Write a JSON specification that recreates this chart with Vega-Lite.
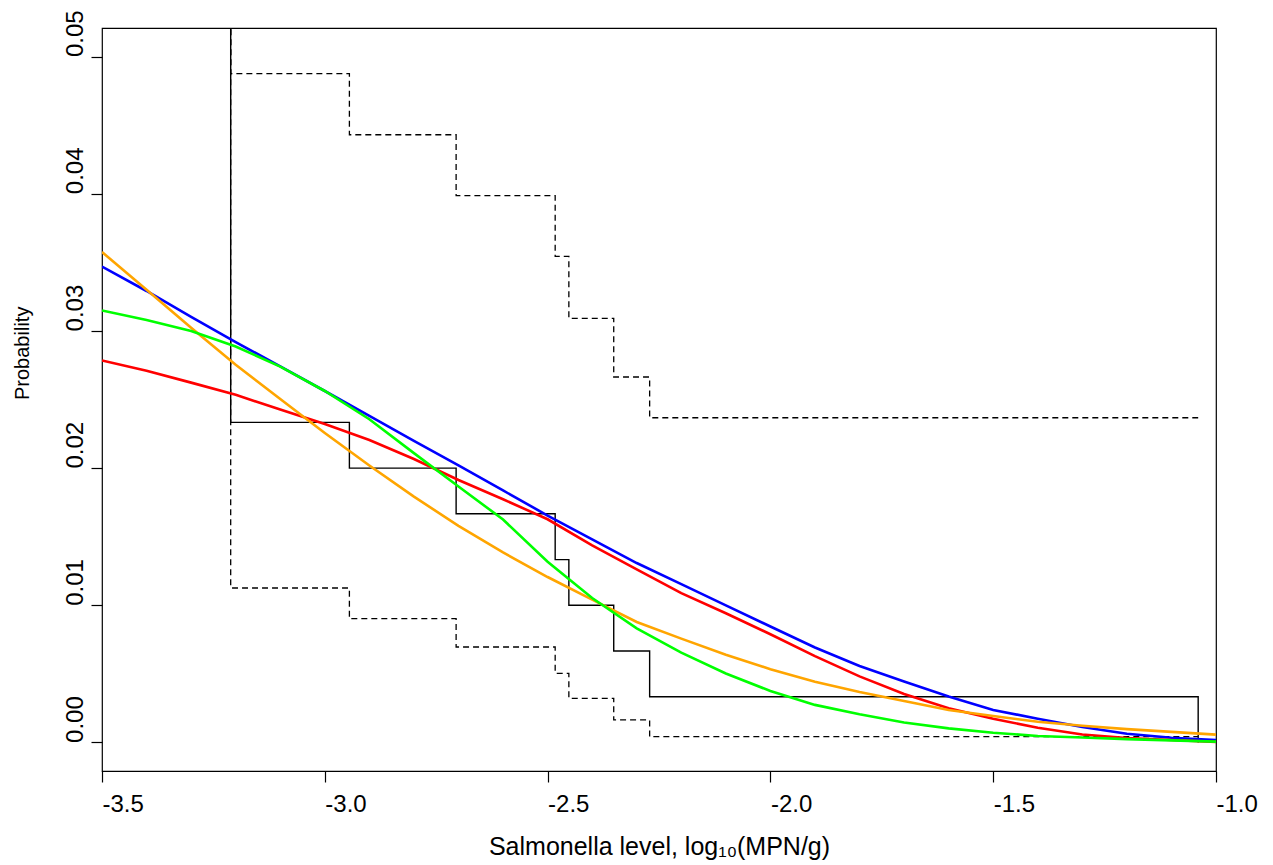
{
  "$schema": "https://vega.github.io/schema/vega-lite/v6.json",
  "autosize": {"type": "none"},
  "padding": {"left": 102, "top": 28, "right": 57, "bottom": 94},
  "width": 1114,
  "height": 743,
  "background": "white",
  "config": {
    "locale": {"number": {"decimal": ".", "thousands": ",", "grouping": [3], "currency": ["$", ""], "minus": "-"}},
    "view": {"stroke": "black", "strokeWidth": 1.2},
    "font": "Liberation Sans",
    "axis": {
      "grid": false,
      "domain": false,
      "tickColor": "black",
      "tickWidth": 1.2,
      "tickSize": 11,
      "labelColor": "black",
      "titleColor": "black",
      "labelFont": "Liberation Sans",
      "titleFont": "Liberation Sans",
      "labelFontSize": 24,
      "titleFontWeight": "normal"
    }
  },
  "datasets": {
    "curves": [
      {"s":"blue","x":-3.5,"y":0.03469},{"s":"blue","x":-3.4,"y":0.03291},{"s":"blue","x":-3.3,"y":0.03103},{"s":"blue","x":-3.2,"y":0.02919},{"s":"blue","x":-3.1,"y":0.02741},{"s":"blue","x":-3.0,"y":0.02562},{"s":"blue","x":-2.9,"y":0.02381},{"s":"blue","x":-2.8,"y":0.02199},{"s":"blue","x":-2.7,"y":0.0202},{"s":"blue","x":-2.6,"y":0.01837},{"s":"blue","x":-2.5,"y":0.01654},{"s":"blue","x":-2.4,"y":0.01481},{"s":"blue","x":-2.3,"y":0.01308},{"s":"blue","x":-2.2,"y":0.01154},{"s":"blue","x":-2.1,"y":0.00999},{"s":"blue","x":-2.0,"y":0.00845},{"s":"blue","x":-1.9,"y":0.00692},{"s":"blue","x":-1.8,"y":0.00558},{"s":"blue","x":-1.7,"y":0.00445},{"s":"blue","x":-1.6,"y":0.00335},{"s":"blue","x":-1.5,"y":0.00237},{"s":"blue","x":-1.4,"y":0.00173},{"s":"blue","x":-1.3,"y":0.00113},{"s":"blue","x":-1.2,"y":0.00063},{"s":"blue","x":-1.1,"y":0.00034},{"s":"blue","x":-1.0,"y":0.00018},
      {"s":"red","x":-3.5,"y":0.02784},{"s":"red","x":-3.4,"y":0.0271},{"s":"red","x":-3.3,"y":0.02623},{"s":"red","x":-3.2,"y":0.02534},{"s":"red","x":-3.1,"y":0.02427},{"s":"red","x":-3.0,"y":0.02321},{"s":"red","x":-2.9,"y":0.02205},{"s":"red","x":-2.8,"y":0.02066},{"s":"red","x":-2.7,"y":0.01913},{"s":"red","x":-2.6,"y":0.01773},{"s":"red","x":-2.5,"y":0.01627},{"s":"red","x":-2.4,"y":0.01436},{"s":"red","x":-2.3,"y":0.01261},{"s":"red","x":-2.2,"y":0.01089},{"s":"red","x":-2.1,"y":0.00942},{"s":"red","x":-2.0,"y":0.00789},{"s":"red","x":-1.9,"y":0.00629},{"s":"red","x":-1.8,"y":0.00482},{"s":"red","x":-1.7,"y":0.00354},{"s":"red","x":-1.6,"y":0.0025},{"s":"red","x":-1.5,"y":0.00173},{"s":"red","x":-1.4,"y":0.00107},{"s":"red","x":-1.3,"y":0.00058},{"s":"red","x":-1.2,"y":0.00033},{"s":"red","x":-1.1,"y":0.00018},{"s":"red","x":-1.0,"y":0.00004},
      {"s":"orange","x":-3.5,"y":0.03575},{"s":"orange","x":-3.4,"y":0.033},{"s":"orange","x":-3.3,"y":0.03023},{"s":"orange","x":-3.2,"y":0.02754},{"s":"orange","x":-3.1,"y":0.02503},{"s":"orange","x":-3.0,"y":0.02256},{"s":"orange","x":-2.9,"y":0.02019},{"s":"orange","x":-2.8,"y":0.01792},{"s":"orange","x":-2.7,"y":0.01579},{"s":"orange","x":-2.6,"y":0.01385},{"s":"orange","x":-2.5,"y":0.01206},{"s":"orange","x":-2.4,"y":0.01041},{"s":"orange","x":-2.3,"y":0.00878},{"s":"orange","x":-2.2,"y":0.00757},{"s":"orange","x":-2.1,"y":0.0064},{"s":"orange","x":-2.0,"y":0.00534},{"s":"orange","x":-1.9,"y":0.00442},{"s":"orange","x":-1.8,"y":0.00368},{"s":"orange","x":-1.7,"y":0.00302},{"s":"orange","x":-1.6,"y":0.00237},{"s":"orange","x":-1.5,"y":0.00193},{"s":"orange","x":-1.4,"y":0.00151},{"s":"orange","x":-1.3,"y":0.00122},{"s":"orange","x":-1.2,"y":0.00097},{"s":"orange","x":-1.1,"y":0.00077},{"s":"orange","x":-1.0,"y":0.00057},
      {"s":"green","x":-3.5,"y":0.03149},{"s":"green","x":-3.4,"y":0.0308},{"s":"green","x":-3.3,"y":0.02999},{"s":"green","x":-3.2,"y":0.02886},{"s":"green","x":-3.1,"y":0.0274},{"s":"green","x":-3.0,"y":0.02562},{"s":"green","x":-2.9,"y":0.02356},{"s":"green","x":-2.8,"y":0.02109},{"s":"green","x":-2.7,"y":0.01866},{"s":"green","x":-2.6,"y":0.01625},{"s":"green","x":-2.5,"y":0.01317},{"s":"green","x":-2.4,"y":0.01053},{"s":"green","x":-2.3,"y":0.00832},{"s":"green","x":-2.2,"y":0.00655},{"s":"green","x":-2.1,"y":0.00503},{"s":"green","x":-2.0,"y":0.00375},{"s":"green","x":-1.9,"y":0.00274},{"s":"green","x":-1.8,"y":0.00206},{"s":"green","x":-1.7,"y":0.00146},{"s":"green","x":-1.6,"y":0.00103},{"s":"green","x":-1.5,"y":0.00071},{"s":"green","x":-1.4,"y":0.00047},{"s":"green","x":-1.3,"y":0.00036},{"s":"green","x":-1.2,"y":0.00024},{"s":"green","x":-1.1,"y":0.00015},{"s":"green","x":-1.0,"y":0.00006}
    ],
    "steps": [
      {"s":"est","i":0,"x":-3.2112,"y":0.06},{"s":"est","i":1,"x":-3.2112,"y":0.02333},{"s":"est","i":2,"x":-2.9448,"y":0.02},{"s":"est","i":3,"x":-2.7053,"y":0.01667},{"s":"est","i":4,"x":-2.483,"y":0.01333},{"s":"est","i":5,"x":-2.4523,"y":0.01},{"s":"est","i":6,"x":-2.3516,"y":0.00667},{"s":"est","i":7,"x":-2.271,"y":0.00333},{"s":"est","i":8,"x":-1.04,"y":0.0},
      {"s":"upper","i":0,"x":-3.2112,"y":0.06},{"s":"upper","i":1,"x":-3.2112,"y":0.04875},{"s":"upper","i":2,"x":-2.9448,"y":0.0443},{"s":"upper","i":3,"x":-2.7053,"y":0.03986},{"s":"upper","i":4,"x":-2.483,"y":0.03544},{"s":"upper","i":5,"x":-2.4523,"y":0.03092},{"s":"upper","i":6,"x":-2.3516,"y":0.02664},{"s":"upper","i":7,"x":-2.271,"y":0.02367},{"s":"upper","i":8,"x":-1.04,"y":0.02367},
      {"s":"lower","i":0,"x":-3.2112,"y":0.06},{"s":"lower","i":1,"x":-3.2112,"y":0.01126},{"s":"lower","i":2,"x":-2.9448,"y":0.00902},{"s":"lower","i":3,"x":-2.7053,"y":0.00696},{"s":"lower","i":4,"x":-2.483,"y":0.00504},{"s":"lower","i":5,"x":-2.4523,"y":0.00322},{"s":"lower","i":6,"x":-2.3516,"y":0.00164},{"s":"lower","i":7,"x":-2.271,"y":0.00042},{"s":"lower","i":8,"x":-1.04,"y":0.00042}
    ]
  },
  "encoding": {
    "x": {
      "field": "x", "type": "quantitative",
      "scale": {"domain": [-3.5, -1.0], "nice": false, "zero": false},
      "axis": {
        "values": [-3.5, -3.0, -2.5, -2.0, -1.5, -1.0],
        "format": ".1f",
        "labelAlign": "left",
        "labelBaseline": "top",
        "labelPadding": 10,
        "labelFlush": false,
        "labelOverlap": false,
        "title": "Salmonella level, log₁₀(MPN/g)",
        "titleFontSize": 25,
        "titleY": 75,
        "titleBaseline": "middle"
      }
    },
    "y": {
      "field": "y", "type": "quantitative",
      "scale": {"domain": [-0.00208, 0.05208], "nice": false, "zero": false},
      "axis": {
        "values": [0, 0.01, 0.02, 0.03, 0.04, 0.05],
        "format": ".2f",
        "labelAngle": 270,
        "labelAlign": "left",
        "labelBaseline": "alphabetic",
        "labelPadding": 9,
        "labelFlush": false,
        "labelOverlap": false,
        "title": "Probability",
        "titleFontSize": 20,
        "titleAngle": 270,
        "titleAlign": "left",
        "titleBaseline": "middle",
        "titleX": -80,
        "titleY": 371.5
      }
    }
  },
  "layer": [
    {
      "data": {"name": "steps"},
      "transform": [{"filter": "datum.s === 'est'"}],
      "mark": {"type": "line", "interpolate": "step-after", "color": "black", "strokeWidth": 1.4, "clip": true},
      "encoding": {"order": {"field": "i", "type": "quantitative"}}
    },
    {
      "data": {"name": "steps"},
      "transform": [{"filter": "datum.s !== 'est'"}],
      "mark": {"type": "line", "interpolate": "step-after", "color": "black", "strokeWidth": 1.3, "strokeDash": [6, 4], "clip": true},
      "encoding": {
        "detail": {"field": "s", "type": "nominal"},
        "order": {"field": "i", "type": "quantitative"}
      }
    },
    {
      "data": {"name": "curves"},
      "mark": {"type": "line", "strokeWidth": 2.6, "clip": true},
      "encoding": {
        "color": {
          "field": "s", "type": "nominal",
          "scale": {"domain": ["blue", "red", "orange", "green"], "range": ["#0000FF", "#FF0000", "#FFA500", "#00FF00"]},
          "legend": null
        }
      }
    }
  ]
}
